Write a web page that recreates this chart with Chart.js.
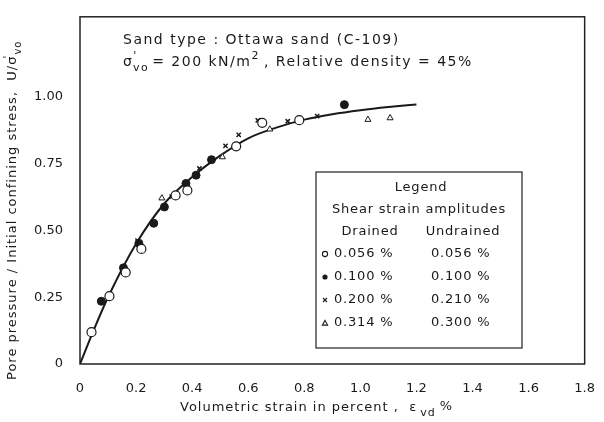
<!DOCTYPE html>
<html>
<head>
<meta charset="utf-8">
<script src="https://cdn.jsdelivr.net/npm/chart.js@4.4.0/dist/chart.umd.min.js"></script>
<style>
  html, body { margin: 0; padding: 0; background: #fff; }
  #wrap { width: 604px; height: 422px; }
</style>
</head>
<body>
<div id="wrap"><canvas id="chart"></canvas></div>
<script>
// tick values and labels
const xTickValues = [0, 0.2, 0.4, 0.6, 0.8, 1.0, 1.2, 1.4, 1.6, 1.8];
const xTickLabels = ['0', '0.2', '0.4', '0.6', '0.8', '1.0', '1.2', '1.4', '1.6', '1.8'];
const yTickValues = [0, 0.25, 0.5, 0.75, 1.0];
const yTickLabels = ['0', '0.25', '0.50', '0.75', '1.00'];

// fitted curve
const curveX = [0, 0.05, 0.1, 0.2, 0.3, 0.4, 0.5, 0.6, 0.7, 0.8, 0.9, 1.0, 1.1, 1.2];
const curveY = [0, 0.13, 0.25, 0.45, 0.6, 0.7, 0.78, 0.845, 0.885, 0.915, 0.935, 0.95, 0.962, 0.972];

// measured points, one series per strain amplitude (drained + undrained)
const openX = [0.041, 0.105, 0.163, 0.219, 0.341, 0.383, 0.557, 0.650, 0.782];
const openY = [0.119, 0.254, 0.343, 0.431, 0.631, 0.650, 0.815, 0.903, 0.913];
const filledX = [0.076, 0.155, 0.210, 0.263, 0.301, 0.378, 0.414, 0.469, 0.943];
const filledY = [0.235, 0.360, 0.452, 0.527, 0.588, 0.676, 0.707, 0.765, 0.971];
const crossX = [0.205, 0.327, 0.426, 0.519, 0.566, 0.634, 0.741, 0.846];
const crossY = [0.462, 0.627, 0.732, 0.817, 0.858, 0.912, 0.909, 0.928];
const triX = [0.292, 0.508, 0.677, 1.027, 1.106];
const triY = [0.621, 0.775, 0.879, 0.915, 0.921];

// legend table text
const legendDrained = ['0.056 %', '0.100 %', '0.200 %', '0.314 %'];
const legendUndrained = ['0.056 %', '0.100 %', '0.210 %', '0.300 %'];

const FONT = '"DejaVu Sans", sans-serif';
const INK = '#1a1a1a';

function pts(xs, ys) {
  return xs.map((x, i) => ({ x: x, y: ys[i] }));
}

// draw text with small sub/superscripts
function subText(ctx, parts, x, y) {
  let cx = x;
  parts.forEach(p => {
    ctx.font = (p.sub || p.sup) ? '11px ' + FONT : '14px ' + FONT;
    const dy = p.sub ? 6 : (p.sup ? -6 : 0);
    ctx.fillText(p.t, cx, y + dy);
    cx += ctx.measureText(p.t).width + (p.gap || 0);
  });
  return cx;
}

function marker(ctx, kind, x, y, r) {
  ctx.save();
  ctx.strokeStyle = INK;
  ctx.fillStyle = INK;
  ctx.lineWidth = 1.1;
  ctx.beginPath();
  if (kind === 'open' || kind === 'filled') {
    ctx.arc(x, y, r, 0, Math.PI * 2);
    if (kind === 'filled') ctx.fill(); else ctx.stroke();
  } else if (kind === 'cross') {
    ctx.moveTo(x - r, y - r); ctx.lineTo(x + r, y + r);
    ctx.moveTo(x + r, y - r); ctx.lineTo(x - r, y + r);
    ctx.stroke();
  } else {
    ctx.moveTo(x, y - r); ctx.lineTo(x + r, y + r * 0.8); ctx.lineTo(x - r, y + r * 0.8);
    ctx.closePath(); ctx.stroke();
  }
  ctx.restore();
}

const decor = {
  id: 'decor',
  afterDraw(chart) {
    const ctx = chart.ctx;
    const a = chart.chartArea;
    ctx.save();
    // frame
    ctx.strokeStyle = '#222';
    ctx.lineWidth = 1.5;
    ctx.strokeRect(a.left, a.top, a.right - a.left, a.bottom - a.top);

    ctx.fillStyle = INK;
    ctx.textBaseline = 'middle';
    ctx.textAlign = 'left';
    ctx.letterSpacing = '1.5px';
    // header notes
    ctx.font = '14px ' + FONT;
    ctx.fillText('Sand type : Ottawa sand (C-109)', 123, 40);
    subText(ctx, [
      { t: 'σ' }, { t: "'", sup: true, gap: -5 }, { t: 'vo', sub: true, gap: 3 },
      { t: '= 200 kN/m' }, { t: '2', sup: true, gap: 4 },
      { t: ', Relative density = 45%' }
    ], 123, 62);

    // legend box
    ctx.lineWidth = 1.2;
    ctx.strokeRect(316, 172, 206, 176);
    ctx.font = '13px ' + FONT;
    ctx.letterSpacing = '0.8px';
    ctx.textAlign = 'center';
    ctx.fillText('Legend', 421, 188);
    ctx.fillText('Shear strain amplitudes', 419, 210);
    ctx.fillText('Drained', 370, 232);
    ctx.fillText('Undrained', 463, 232);
    ctx.textAlign = 'left';
    const kinds = ['open', 'filled', 'cross', 'triangle'];
    const rows = [254, 277, 300, 323];
    rows.forEach((ry, i) => {
      marker(ctx, kinds[i], 325, ry, i === 2 ? 2 : 2.6);
      ctx.fillText(legendDrained[i], 334, ry);
      ctx.fillText(legendUndrained[i], 431, ry);
    });

    // x axis title
    ctx.letterSpacing = '1px';
    ctx.font = '13px ' + FONT;
    let ex = 180;
    ctx.fillText('Volumetric strain in percent ,  ε', ex, 408);
    ex += ctx.measureText('Volumetric strain in percent ,  ε').width + 3;
    ctx.font = '11px ' + FONT;
    ctx.fillText('vd', ex, 413);
    ex += ctx.measureText('vd').width + 4;
    ctx.font = '13px ' + FONT;
    ctx.fillText('%', ex, 407);

    // y axis title (rotated)
    ctx.translate(13, 380);
    ctx.rotate(-Math.PI / 2);
    ctx.font = '13px ' + FONT;
    let ty = 0;
    const main = 'Pore pressure / Initial confining stress,  U/σ';
    ctx.fillText(main, ty, 0);
    ty += ctx.measureText(main).width;
    ctx.font = '10px ' + FONT;
    ctx.fillText("'", ty - 3, -5);
    ctx.fillText('vo', ty + 1, 5);
    ctx.restore();
  }
};

const tickFont = { family: FONT, size: 13 };

new Chart(document.getElementById('chart'), {
  type: 'scatter',
  data: {
    datasets: [
      {
        label: 'curve',
        type: 'line',
        data: pts(curveX, curveY),
        borderColor: INK,
        borderWidth: 2,
        pointRadius: 0,
        cubicInterpolationMode: 'monotone',
        fill: false,
        order: 5
      },
      {
        label: '0.056 %',
        data: pts(openX, openY),
        pointStyle: 'circle',
        pointRadius: 4.5,
        backgroundColor: '#fff',
        borderColor: INK,
        borderWidth: 1.2
      },
      {
        label: '0.100 %',
        data: pts(filledX, filledY),
        pointStyle: 'circle',
        pointRadius: 4,
        backgroundColor: INK,
        borderColor: INK,
        borderWidth: 1
      },
      {
        label: '0.200 %',
        data: pts(crossX, crossY),
        pointStyle: 'crossRot',
        pointRadius: 3,
        borderColor: INK,
        borderWidth: 1.5
      },
      {
        label: '0.314 %',
        data: pts(triX, triY),
        pointStyle: 'triangle',
        pointRadius: 3.5,
        backgroundColor: '#fff',
        borderColor: INK,
        borderWidth: 1
      }
    ]
  },
  options: {
    responsive: true,
    maintainAspectRatio: false,
    animation: false,
    layout: { padding: { top: 10, right: 10, left: 0, bottom: 0 } },
    plugins: { legend: { display: false }, tooltip: { enabled: false } },
    scales: {
      x: {
        type: 'linear',
        min: 0,
        max: 1.8,
        grid: { display: false },
        border: { display: false },
        afterBuildTicks: s => { s.ticks = xTickValues.map(v => ({ value: v })); },
        afterFit: s => { s.height = 58; },
        ticks: {
          color: INK,
          font: tickFont,
          padding: 9,
          maxRotation: 0,
          autoSkip: false,
          callback: (v, i) => xTickLabels[i]
        }
      },
      y: {
        type: 'linear',
        min: 0,
        max: 1.3,
        grid: { display: false },
        border: { display: false },
        afterBuildTicks: s => { s.ticks = yTickValues.map(v => ({ value: v })); },
        afterFit: s => { s.width = 80; },
        ticks: {
          color: INK,
          font: tickFont,
          padding: 9,
          autoSkip: false,
          callback: (v, i) => yTickLabels[i]
        }
      }
    }
  },
  plugins: [decor]
});
</script>
</body>
</html>
